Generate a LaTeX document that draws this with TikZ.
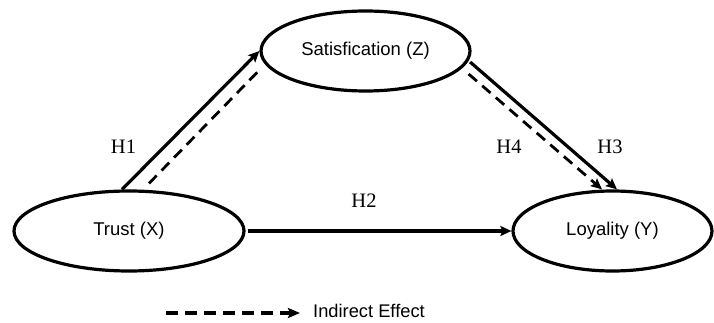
\documentclass[tikz,border=0pt]{standalone}
\usepackage{fontspec}
\setmainfont{Liberation Sans}
\newfontfamily\hfont{Liberation Serif}
\usetikzlibrary{shapes.geometric,arrows.meta}
\begin{document}
\begin{tikzpicture}[x=1pt,y=-1pt,
  var/.style={ellipse,draw,line width=3.2pt,inner sep=0pt,font=\fontsize{18.5}{20}\selectfont},
  hlab/.style={font=\hfont\fontsize{20.5}{22}\selectfont,inner sep=0pt},
  solidarrow/.style={line width=3.2pt,-{Stealth[length=11pt,width=10pt,inset=2pt]}},
  dasharrow/.style={line width=2.8pt,dash pattern=on 11pt off 7pt},
  ]
\useasboundingbox (0,0) rectangle (714,323);
\node[var,minimum width=230pt,minimum height=80pt] (trust) at (129,231) {Trust (X)};
\node[var,minimum width=209pt,minimum height=80pt] (sat) at (365.5,51) {Satisfication (Z)};
\node[var,minimum width=199pt,minimum height=80pt] (loy) at (612.5,231) {Loyality (Y)};

% H1
\draw[solidarrow] ([xshift=-7pt]trust.north) -- (sat.west);
\draw[dasharrow] ([xshift=20pt,yshift=6pt]trust.north) -- ([xshift=2pt,yshift=-17pt]sat.west);
% H2
\draw[solidarrow,shorten <=2pt] (trust.east) -- (loy.west);
% H3 / H4
\draw[solidarrow] ([xshift=-1.5pt,yshift=-11pt]sat.east) -- ([xshift=4.5pt]loy.north);
\draw[dasharrow,-{Stealth[length=11pt,width=10pt,inset=2pt]}] ([xshift=-3pt,yshift=-23pt]sat.east) -- ([xshift=-10.5pt]loy.north);

\node[hlab] (h1) at (123.5,147) {H1};
\node[hlab] (h2) at (364,200.5) {H2};
\node[hlab] (h4) at (509,147) {H4};
\node[hlab] (h3) at (610,147) {H3};

% legend
\coordinate (lgs) at (166,313);
\coordinate (lge) at (300,313);
\draw[line width=3.5pt,dash pattern=on 12pt off 7pt,-{Stealth[length=12pt,width=10pt,inset=2pt]}] (lgs) -- (lge);
\node[anchor=west,inner sep=0pt,font=\fontsize{18.3}{20}\selectfont] (lg) at (313,311) {Indirect Effect};
\end{tikzpicture}
\end{document}
